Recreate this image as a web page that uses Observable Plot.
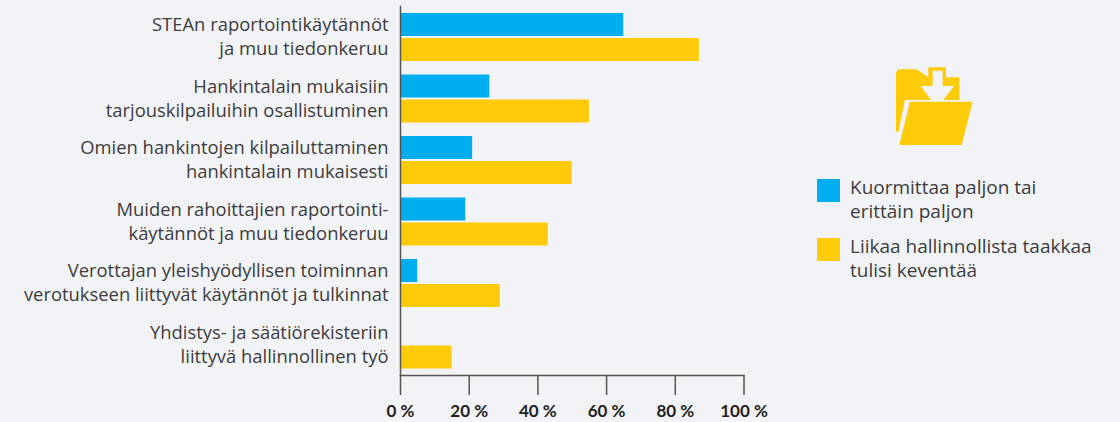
<!DOCTYPE html>
<html><head><meta charset="utf-8">
<script src="https://cdn.jsdelivr.net/npm/d3@7"></script>
<script src="https://cdn.jsdelivr.net/npm/@observablehq/plot@0.6"></script>
<style>
html,body{margin:0;padding:0;background:#f2f3f6;width:1120px;height:422px;overflow:hidden}
#wrap{position:relative;width:1120px;height:422px}
svg{display:block}
.lg{position:absolute;font:19px/24px "Open Sans",sans-serif;color:#3c3c3c;white-space:pre}
.sw{position:absolute;width:23px;height:23px}
</style></head><body><div id="wrap"></div>
<script>
const categories = [
 "STEAn raportointikäytännöt\nja muu tiedonkeruu",
 "Hankintalain mukaisiin\ntarjouskilpailuihin osallistuminen",
 "Omien hankintojen kilpailuttaminen\nhankintalain mukaisesti",
 "Muiden rahoittajien raportointi-\nkäytännöt ja muu tiedonkeruu",
 "Verottajan yleishyödyllisen toiminnan\nverotukseen liittyvät käytännöt ja tulkinnat",
 "Yhdistys- ja säätiörekisteriin\nliittyvä hallinnollinen työ"];
const burden = [65, 26, 21, 19, 5, 0];
const excess = [87, 55, 50, 43, 29, 15];
const ticks = [0, 20, 40, 60, 80, 100];
const seriesNames = ["Kuormittaa paljon tai\nerittäin paljon", "Liikaa hallinnollista taakkaa\ntulisi keventää"];
const colors = ["#00aeef", "#ffcb08"];

const chart = Plot.plot({
  width: 1120, height: 422,
  marginLeft: 400, marginRight: 376.5, marginTop: 6, marginBottom: 47,
  style: {background: "transparent"},
  x: {domain: [0, 100]},
  y: {domain: categories, padding: 0, round: false},
  marks: [
    Plot.barX(categories, {y: d => d, x: (d, i) => burden[i], fill: colors[0], insetTop: 7, insetBottom: 31.5}),
    Plot.barX(categories, {y: d => d, x: (d, i) => excess[i], fill: colors[1], insetTop: 32, insetBottom: 6.5}),
    Plot.frame({anchor: "left", stroke: "#555", strokeWidth: 1.5}),
    Plot.frame({anchor: "bottom", stroke: "#555", strokeWidth: 1.5}),
    Plot.axisY({anchor: "left", tickSize: 0, tickPadding: 12, label: null, lineHeight: 1.3, dy: -1.5,
      fontSize: 18.4, fontFamily: "'Open Sans', sans-serif", fill: "#3c3c3c", textOverflow: null, lineWidth: 100}),
    Plot.axisX({anchor: "bottom", ticks, tickSize: 20, tickPadding: 9, label: null, stroke: "#555", strokeWidth: 1.5,
      tickFormat: d => d + " %", fontSize: 17, fontWeight: 700, fontFamily: "Lato, sans-serif", fill: "#231f20", strokeOpacity: 1, textStroke: "none"})
  ]
});
const wrap = document.getElementById("wrap");
wrap.appendChild(chart);
const legendTop = [179, 238];
seriesNames.forEach((name, i) => {
  const s = document.createElement("div"); s.className = "sw";
  s.style.cssText = `left:817px;top:${legendTop[i]}px;background:${colors[i]}`;
  wrap.appendChild(s);
  const t = document.createElement("div"); t.className = "lg";
  t.style.cssText = `left:850px;top:${legendTop[i] - 4}px`;
  t.textContent = name;
  wrap.appendChild(t);
});
const icon = document.createElement("div");
icon.style.cssText = "position:absolute;left:860px;top:50px;width:140px;height:110px";
icon.innerHTML = `<svg viewBox="0 0 420 330" width="140" height="110">
<path fill="#ffcb08" d="M108 72Q108 58 122 58L170 58L205 82L205 52L258 52L258 82L298 82L298 150L135 150L115 245L108 245Z"/>
<path fill="#f2f3f6" d="M218 62L248 62L248 108L282 108L248 152L215 152L182 108L218 108Z"/>
<path fill="#ffcb08" d="M150 155L338 155L305 285L118 285Z"/></svg>`;
wrap.appendChild(icon);
</script></body></html>
